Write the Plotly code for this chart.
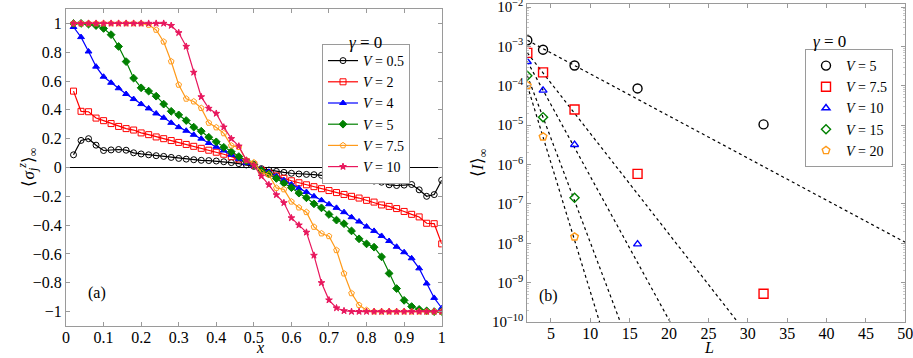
import numpy as np
import plotly.graph_objects as go

# ---------------- data: panel (a) ----------------
L_sites = 50
site = list(range(1, 51))
x_pos = [j / L_sites for j in site]

s_V05 = [0.088, 0.188, 0.20, 0.155, 0.118, 0.122, 0.125, 0.12, 0.102, 0.094,
         0.088, 0.082, 0.077, 0.07, 0.063, 0.058, 0.054, 0.05, 0.048, 0.045,
         0.04, 0.034, 0.027, 0.018, 0.008,
         -0.008, -0.018, -0.027, -0.034, -0.04, -0.045, -0.048, -0.05, -0.054, -0.058,
         -0.063, -0.07, -0.077, -0.082, -0.088, -0.094, -0.102, -0.12, -0.125, -0.122,
         -0.118, -0.155, -0.20, -0.188, -0.088]
s_V2 = [0.53, 0.39, 0.387, 0.343, 0.325, 0.305, 0.285, 0.27, 0.26, 0.24,
        0.228, 0.212, 0.2, 0.187, 0.174, 0.16, 0.147, 0.133, 0.12, 0.106,
        0.092, 0.075, 0.058, 0.04, 0.018,
        -0.018, -0.04, -0.058, -0.075, -0.092, -0.106, -0.12, -0.133, -0.147, -0.16,
        -0.174, -0.187, -0.2, -0.212, -0.228, -0.24, -0.26, -0.27, -0.285, -0.305,
        -0.325, -0.343, -0.387, -0.39, -0.53]
s_V4 = [0.975, 0.905, 0.805, 0.70, 0.63, 0.588, 0.55, 0.51, 0.475, 0.44,
        0.41, 0.375, 0.345, 0.31, 0.28, 0.255, 0.227, 0.2, 0.17, 0.144,
        0.118, 0.088, 0.06, 0.03, 0.01,
        -0.01, -0.03, -0.06, -0.088, -0.118, -0.144, -0.17, -0.2, -0.227, -0.255,
        -0.28, -0.31, -0.345, -0.375, -0.41, -0.44, -0.475, -0.51, -0.55, -0.588,
        -0.63, -0.70, -0.805, -0.905, -0.975]
s_V5 = [1.0, 1.0, 0.995, 0.985, 0.965, 0.922, 0.84, 0.735, 0.62, 0.553,
        0.53, 0.495, 0.44, 0.39, 0.365, 0.326, 0.28, 0.252, 0.21, 0.178,
        0.14, 0.109, 0.076, 0.045, 0.02,
        -0.02, -0.045, -0.076, -0.109, -0.14, -0.178, -0.21, -0.252, -0.28, -0.326,
        -0.365, -0.39, -0.44, -0.495, -0.53, -0.553, -0.62, -0.735, -0.84, -0.922,
        -0.965, -0.985, -0.995, -1.0, -1.0]
s_V75 = [1.0, 1.0, 1.0, 1.0, 1.0, 1.0, 1.0, 1.0, 1.0, 1.0,
         0.99, 0.955, 0.873, 0.736, 0.574, 0.477, 0.458, 0.412, 0.31, 0.278,
         0.237, 0.152, 0.142, 0.05, 0.035,
         -0.035, -0.05, -0.142, -0.152, -0.237, -0.278, -0.31, -0.412, -0.458, -0.477,
         -0.574, -0.736, -0.873, -0.955, -0.99, -1.0, -1.0, -1.0, -1.0, -1.0,
         -1.0, -1.0, -1.0, -1.0, -1.0]
s_V10 = [1.0, 1.0, 1.0, 1.0, 1.0, 1.0, 1.0, 1.0, 1.0, 1.0,
         1.0, 1.0, 1.0, 0.985, 0.935, 0.84, 0.66, 0.49, 0.41, 0.375,
         0.28, 0.2, 0.148, 0.05, 0.015,
         -0.06, -0.12, -0.19, -0.245, -0.35, -0.40, -0.45, -0.61, -0.80, -0.92,
         -0.975, -0.995, -1.0, -1.0, -1.0, -1.0, -1.0, -1.0, -1.0, -1.0,
         -1.0, -1.0, -1.0, -1.0, -1.0]

a_names = ["0.5", "2", "4", "5", "7.5", "10"]
a_series = [s_V05, s_V2, s_V4, s_V5, s_V75, s_V10]
a_colors = ["#000000", "#ff0000", "#0000ff", "#008000", "#ff9a1a", "#e8175d"]
a_symbols = ["circle-open", "square-open", "triangle-up", "diamond", "pentagon-open", "star"]
a_sizes = [6, 6, 6, 6, 6, 5]

# ---------------- data: panel (b) ----------------
b_names = ["5", "7.5", "10", "15", "20"]
L_sizes = [2, 4, 8, 16, 32]
I_V5 = [1.44e-3, 8.3e-4, 3.3e-4, 8.6e-5, 1.05e-5]
I_V75 = [6.9e-4, 2.2e-4, 2.5e-5, 5.8e-7, 5.2e-10]
I_V10 = [4.1e-4, 7.7e-5, 3.2e-6, 9.5e-9]
I_V15 = [1.8e-4, 1.6e-5, 1.43e-7]
I_V20 = [1.02e-4, 5.1e-6, 1.46e-8]
b_series = [I_V5, I_V75, I_V10, I_V15, I_V20]
b_colors = ["#000000", "#ff0000", "#0000ff", "#008000", "#ff9a1a"]
b_symbols = ["circle-open", "square-open", "triangle-up-open", "diamond-open", "pentagon-open"]
b_sizes = [9, 9, 7, 7, 8]
# exponential fits: log10 <I> = fit_log_at2 + fit_slope*(L-2)
fit_log_at2 = [-2.84, -3.16, -3.38, -3.74, -3.99]
fit_slope = [-0.107, -0.256, -0.365, -0.53, -0.655]

FONT = "Liberation Serif"
FRAME = "#9a9a9a"

fig = go.Figure()

for name, ys, c, sym, sz in zip(a_names, a_series, a_colors, a_symbols, a_sizes):
    fig.add_trace(go.Scatter(
        x=x_pos, y=ys, mode="lines+markers", name=f"<i>V</i> = {name}",
        line=dict(color=c, width=1.2),
        marker=dict(symbol=sym, size=sz, color=c, line=dict(color=c, width=1)),
        xaxis="x", yaxis="y", legend="legend"))

for a0, b0 in zip(fit_log_at2, fit_slope):
    Lend = min(50.0, 2 + (-10.5 - a0) / b0)
    Ls = np.linspace(2, Lend, 50)
    fig.add_trace(go.Scatter(
        x=Ls, y=10 ** (a0 + b0 * (Ls - 2)), mode="lines",
        line=dict(color="black", width=1.2, dash="3px,3px"),
        showlegend=False, xaxis="x2", yaxis="y2", hoverinfo="skip"))

for name, ys, c, sym, sz in zip(b_names, b_series, b_colors, b_symbols, b_sizes):
    fig.add_trace(go.Scatter(
        x=L_sizes[:len(ys)], y=ys, mode="markers", name=f"<i>V</i> = {name}",
        marker=dict(symbol=sym, size=sz, color=c, line=dict(color=c, width=1.4)),
        xaxis="x2", yaxis="y2", legend="legend2"))

W, H = 913, 358
def dx(a, b):
    return [a / W, b / W]
def dy(top, bot):
    return [1 - bot / H, 1 - top / H]
def px(xp):
    return xp / W
def py(yp):
    return 1 - yp / H

axis_common = dict(showline=True, linecolor=FRAME, linewidth=1, mirror="ticks",
                   ticks="inside", ticklen=4, tickcolor=FRAME, showgrid=False,
                   automargin=False, ticklabeloverflow="allow")
tf16 = dict(family=FONT, size=16, color="black")

log_major = list(range(-10, -1))
log_text = [f"10<sup>−{-k}</sup>" for k in log_major]
log_minor = [np.log10(m) + k for k in range(-10, -2) for m in range(2, 10)]

fig.update_layout(
    width=W, height=H, margin=dict(l=0, r=0, t=0, b=0),
    plot_bgcolor="white", paper_bgcolor="white",
    font=dict(family=FONT, size=16, color="black"),
    xaxis=dict(domain=dx(66, 441.7), range=[0, 1], anchor="y",
               tickvals=[0, 0.1, 0.2, 0.3, 0.4, 0.5, 0.6, 0.7, 0.8, 0.9, 1],
               ticktext=["0", "0.1", "0.2", "0.3", "0.4", "0.5", "0.6", "0.7", "0.8", "0.9", "1"],
               ticklabelstandoff=-3, tickfont=tf16,
               zeroline=False, **axis_common),
    yaxis=dict(domain=dy(9, 326), range=[-1.1, 1.1], anchor="x",
               tickvals=[-1, -0.8, -0.6, -0.4, -0.2, 0, 0.2, 0.4, 0.6, 0.8, 1],
               ticktext=["−1", "−0.8", "−0.6", "−0.4", "−0.2", "0", "0.2", "0.4", "0.6", "0.8", "1"],
               tickfont=tf16,
               zeroline=True, zerolinecolor="black", zerolinewidth=1, **axis_common),
    xaxis2=dict(domain=dx(527.3, 905.3), range=[2, 50], anchor="y2",
                tickvals=[5, 10, 15, 20, 25, 30, 35, 40, 45, 50],
                ticklabelstandoff=-3, tickfont=tf16,
                zeroline=False, **axis_common),
    yaxis2=dict(domain=dy(4, 322), type="log", range=[-10, -1.92], anchor="x2",
                tickvals=[10.0 ** k for k in log_major], ticktext=log_text,
                tickfont=dict(family=FONT, size=15, color="black"),
                minor=dict(tickvals=[10 ** v for v in log_minor], ticks="inside",
                           ticklen=2, tickcolor="#c8c8c8", showgrid=False),
                zeroline=False, **axis_common),
    legend=dict(x=px(366), y=py(44), xanchor="center", yanchor="top",
                bordercolor=FRAME, borderwidth=1, bgcolor="white",
                font=dict(family=FONT, size=14), itemwidth=30,
                tracegroupgap=0),
    legend2=dict(x=px(849), y=py(49), xanchor="center", yanchor="top",
                 bordercolor=FRAME, borderwidth=1, bgcolor="white",
                 font=dict(family=FONT, size=14), itemwidth=30,
                 tracegroupgap=0),
    annotations=[
        dict(text="<i>γ</i> = 0", x=px(365), y=py(31), xref="paper", yref="paper",
             showarrow=False, font=dict(family=FONT, size=17)),
        dict(text="<i>γ</i> = 0", x=px(848), y=py(30), xref="paper", yref="paper",
             showarrow=False, font=dict(family=FONT, size=17)),
        dict(text="(a)", x=px(86), y=py(304), xref="paper", yref="paper",
             showarrow=False, font=dict(family=FONT, size=16)),
        dict(text="(b)", x=px(548), y=py(307), xref="paper", yref="paper",
             showarrow=False, font=dict(family=FONT, size=16)),
        dict(text="<i>x</i>", x=px(254), y=0, xref="paper", yref="paper",
             yanchor="bottom", showarrow=False, font=dict(family=FONT, size=16)),
        dict(text="<i>L</i>", x=px(716), y=0, xref="paper", yref="paper",
             yanchor="bottom", showarrow=False, font=dict(family=FONT, size=16)),
        dict(text="⟨<i>σ</i><sub><i>j</i></sub><sup><i>z</i></sup>⟩<sub>∞</sub>",
             x=px(14), y=py(167), xref="paper", yref="paper", textangle=-90,
             showarrow=False, font=dict(family=FONT, size=17)),
        dict(text="⟨<i>I</i>⟩<sub>∞</sub>",
             x=px(479), y=py(163), xref="paper", yref="paper", textangle=-90,
             showarrow=False, font=dict(family=FONT, size=17)),
    ],
)

fig.write_html("out.html", config={"displayModeBar": False},
               post_script="document.body.style.margin='0';")
